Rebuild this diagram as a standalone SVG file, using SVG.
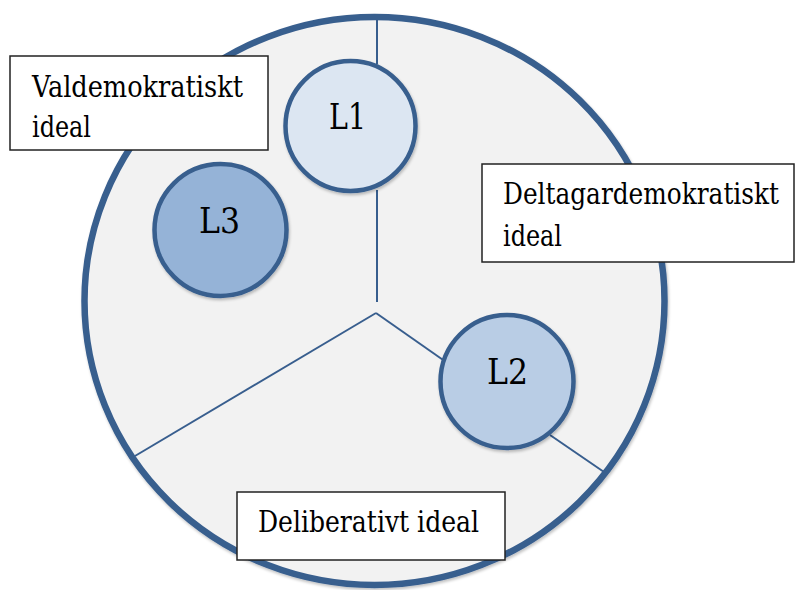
<svg xmlns="http://www.w3.org/2000/svg" width="795" height="590" viewBox="0 0 795 590">
<defs>
<style>
.box{fill:#fff;stroke:#222;stroke-width:1.5}
.node{stroke:#385E8E;stroke-width:4.5}
.conn{stroke:#385E8E;stroke-width:2;fill:none}
</style>
<filter id="sh" x="-10%" y="-10%" width="120%" height="120%">
<feGaussianBlur in="SourceAlpha" stdDeviation="1.5"/>
<feOffset dx="1" dy="2" result="b"/>
<feComponentTransfer><feFuncA type="linear" slope="0.25"/></feComponentTransfer>
<feMerge><feMergeNode/><feMergeNode in="SourceGraphic"/></feMerge>
</filter>
</defs>
<rect width="795" height="590" fill="#fff"/>
<g id="outer">
<ellipse cx="374.5" cy="301" rx="290" ry="284" fill="#F2F2F2" stroke="#385E8E" stroke-width="6.5" filter="url(#sh)"/>
</g>
<g id="connectors">
<line class="conn" x1="377" y1="20" x2="377" y2="64"/>
<line class="conn" x1="377" y1="190" x2="377" y2="302"/>
<line class="conn" x1="376" y1="313" x2="135" y2="456"/>
<line class="conn" x1="376" y1="313" x2="446" y2="362"/>
<line class="conn" x1="550" y1="435" x2="604" y2="472"/>
</g>
<g font-family="'DejaVu Serif Condensed', 'DejaVu Serif', serif" font-stretch="condensed" fill="#000">
<g id="L1">
<circle class="node" cx="350.5" cy="126" r="65" fill="#DCE6F2" filter="url(#sh)"/>
<text x="329" y="129" font-size="35" textLength="37" lengthAdjust="spacingAndGlyphs">L1</text>
</g>
<g id="L3">
<circle class="node" cx="220.5" cy="230" r="66" fill="#95B3D7" filter="url(#sh)"/>
<text x="199" y="233" font-size="35" textLength="41" lengthAdjust="spacingAndGlyphs">L3</text>
</g>
<g id="L2">
<circle class="node" cx="507" cy="381.5" r="66.5" fill="#B9CDE5" filter="url(#sh)"/>
<text x="487" y="384" font-size="35" textLength="41" lengthAdjust="spacingAndGlyphs">L2</text>
</g>
<g id="valdemokratiskt">
<rect class="box" x="10" y="56" width="258" height="94"/>
<text x="32" y="97" font-size="30" textLength="211" lengthAdjust="spacingAndGlyphs">Valdemokratiskt</text>
<text x="32" y="137" font-size="30" textLength="59" lengthAdjust="spacingAndGlyphs">ideal</text>
</g>
<g id="deltagardemokratiskt">
<rect class="box" x="482" y="164" width="312" height="98"/>
<text x="503" y="204" font-size="30" textLength="276" lengthAdjust="spacingAndGlyphs">Deltagardemokratiskt</text>
<text x="503" y="246" font-size="30" textLength="59" lengthAdjust="spacingAndGlyphs">ideal</text>
</g>
<g id="deliberativt">
<rect class="box" x="237" y="492" width="268" height="68"/>
<text x="258" y="532" font-size="30" textLength="221" lengthAdjust="spacingAndGlyphs">Deliberativt ideal</text>
</g>
</g>
</svg>
